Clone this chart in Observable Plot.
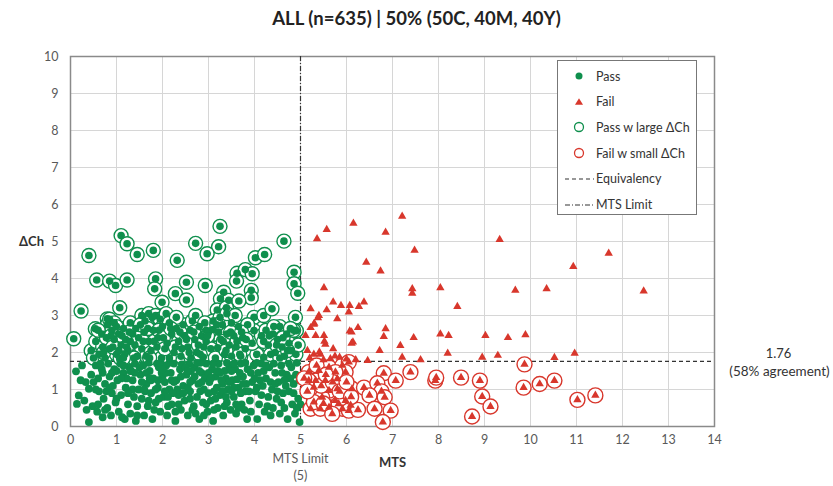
<!DOCTYPE html>
<html>
<head>
<meta charset="utf-8">
<script src="https://cdn.jsdelivr.net/npm/d3@7"></script>
<script src="https://cdn.jsdelivr.net/npm/@observablehq/plot@0.6"></script>
<style>
  html, body { margin: 0; padding: 0; background: #fff; }
  #wrap { position: relative; width: 833px; height: 486px; font-family: Lato, "Open Sans", sans-serif; }
  #title { position: absolute; top: 7px; left: 0; width: 833px; text-align: center; font-weight: bold; font-size: 18.5px; color: #222; }
  #chart { position: absolute; top: 0; left: 0; }
  #legend { position: absolute; left: 557px; top: 60px; width: 140px; height: 155px; border: 1px solid #777; background: #fff; box-sizing: border-box; }
  .li { position: absolute; left: 0; height: 20px; display: flex; align-items: center; font-size: 12.5px; color: #333; }
  .li svg { width: 36px; height: 20px; }
  .li span { margin-left: 2px; }
</style>
</head>
<body>
<div id="wrap">
  <div id="chart"></div>
  <div id="title">ALL (n=635) | 50% (50C, 40M, 40Y)</div>
  <div id="legend"></div>
</div>
<script>
const GREEN = "#0f8f4d";
const RED = "#d8372c";

const xTicks = [0,1,2,3,4,5,6,7,8,9,10,11,12,13,14];
const yTicks = [0,1,2,3,4,5,6,7,8,9,10];
const equivalency = 1.76;
const agreement = "(58% agreement)";
const mtsLimit = 5;

// Pass (below equivalency)
const passX = [0.12,0.18,0.14,0.4,0.33,0.4,0.25,0.3,0.45,0.48,0.55,0.6,0.62,0.58,0.68,0.72,0.75,0.8,0.82,0.85,0.88,0.9,0.95,0.98,0.7,0.92,
1.02,1.05,1.08,1.1,1.15,1.18,1.2,1.25,1.28,1.3,1.35,1.38,1.4,1.45,1.48,1.12,1.32,1.42,
1.52,1.55,1.58,1.6,1.65,1.68,1.72,1.75,1.78,1.8,1.85,1.88,1.9,1.95,1.98,1.62,1.82,1.7,
2.02,2.05,2.08,2.1,2.15,2.18,2.2,2.25,2.28,2.3,2.35,2.38,2.4,2.45,2.48,2.12,2.32,2.42,
2.52,2.55,2.58,2.6,2.65,2.68,2.7,2.75,2.78,2.8,2.85,2.88,2.9,2.95,2.98,2.62,2.72,2.92,2.82,
3.02,3.05,3.08,3.1,3.12,3.15,3.2,3.22,3.25,3.3,3.32,3.35,3.4,3.42,3.45,3.48,3.18,3.38,
3.52,3.55,3.58,3.6,3.65,3.7,3.72,3.75,3.8,3.84,3.85,3.9,3.95,3.98,3.68,3.78,
4.02,4.06,4.08,4.1,4.15,4.18,4.22,4.25,4.3,4.32,4.38,4.4,4.45,4.48,4.28,4.12,
4.52,4.55,4.58,4.62,4.65,4.7,4.72,4.75,4.8,4.82,4.85,4.88,4.9,4.95,4.98,5.0,4.98,4.92,
0.5,0.65,0.78,1.0,1.22,1.5,1.55,1.75,1.92,2.0,2.2,2.22,2.4,2.5,2.55,2.7,2.75,2.85,3.0,3.0,3.1,3.15,3.25,3.3,3.45,3.5,3.55,3.62,3.7,3.82,3.92,4.0,4.2,4.35,4.42,4.6,4.68,4.78,4.5,1.35,1.65,1.85,2.05,2.6,2.95,3.35,3.6,1.15,0.9,0.7,2.35,2.15,3.4,3.8,4.05,1.95,
0.22,0.35,0.55,0.6,0.75,0.85,1.0,1.1,1.25,1.4,1.45,1.6,1.7,1.72,1.9,1.92,2.08,2.12,2.25,2.28,2.45,2.55,2.65,2.8,2.82,2.9,3.05,3.12,3.2,3.28,3.38,3.5,3.55,3.65,3.75,3.88,3.92,4.05,4.15,4.25,4.35,4.45,4.58,4.65,4.75,4.85,4.92,1.3,2.0,2.6];
const passY = [1.49,0.84,0.61,0.12,1.2,1.02,1.65,0.7,1.4,0.55,1.65,1.3,0.95,0.4,1.55,0.75,1.15,0.5,1.7,1.35,0.3,0.9,1.55,0.65,0.25,1.1,
1.25,0.4,1.7,0.85,1.45,0.2,1.05,0.6,1.6,0.35,1.25,0.8,1.7,0.55,1.0,0.25,1.5,0.15,
1.4,0.75,1.65,0.3,1.15,0.55,1.5,0.9,0.2,1.3,0.65,1.7,1.05,0.4,1.45,0.95,0.45,1.72,
0.8,1.2,1.65,0.3,1.0,1.45,0.6,1.7,0.15,1.25,0.85,1.55,0.45,1.1,0.7,0.55,1.0,1.68,
1.4,0.3,1.7,0.95,1.25,0.55,1.6,0.8,1.15,0.2,1.45,0.65,1.0,1.7,0.4,1.5,0.35,1.3,1.72,
1.2,0.7,1.55,0.15,0.95,1.35,0.5,1.7,0.85,1.15,0.3,1.5,0.65,1.0,1.65,0.45,1.05,1.3,
1.25,0.8,1.55,0.35,1.05,1.7,0.6,1.35,0.95,0.2,1.55,0.7,1.2,1.65,1.45,0.45,
0.95,0.2,1.45,0.6,1.7,1.1,0.4,1.3,0.8,1.6,1.0,0.5,1.45,0.75,0.55,1.25,
1.2,0.35,1.65,0.9,0.5,1.4,0.2,0.95,1.6,0.6,1.15,0.35,1.4,0.75,0.12,0.6,1.25,1.72,
1.2,1.7,0.95,1.5,1.3,1.6,1.2,1.25,1.6,1.35,1.25,0.9,1.35,1.6,1.05,1.35,1.72,1.2,1.45,0.9,1.7,0.75,1.45,0.95,1.2,1.5,1.05,1.28,0.9,1.15,1.45,1.3,1.5,1.2,1.7,1.45,1.1,1.3,0.95,1.0,1.45,1.0,0.95,0.75,0.6,0.55,0.6,1.65,1.45,1.45,0.6,1.72,1.72,1.72,1.72,1.72,
1.25,0.45,1.0,0.6,0.45,1.05,0.75,1.3,0.9,1.45,0.3,1.0,0.7,1.3,1.25,0.75,1.45,0.8,1.2,0.4,0.9,1.5,0.45,1.5,0.95,0.3,1.3,0.45,1.5,1.25,0.8,0.95,1.7,0.5,1.15,0.95,0.4,1.05,0.85,1.65,0.3,1.15,0.65,1.25,1.7,0.9,0.5,1.5,1.55,1.2];

// Pass with large ΔCh (above equivalency)
const passLargeX = [3.25,1.1,1.23,0.4,1.45,1.8,2.72,3.22,2.97,4.64,2.32,4.02,4.22,0.57,0.85,0.98,1.23,1.85,1.83,2.52,2.93,2.28,2.52,3.62,3.8,3.95,3.61,4.86,4.86,4.94,3.93,3.93,3.33,3.26,3.44,3.66,3.19,3.39,1.99,1.07,0.23,0.8,0.54,0.07,3.99,4.2,4.38,3.99,4.2,4.89,4.91,
0.45,0.55,0.62,0.7,0.68,0.5,0.75,
0.8,0.85,0.9,0.95,0.85,1.0,1.05,1.1,0.78,0.95,1.08,
1.15,1.2,1.25,1.3,1.35,1.4,1.45,1.18,1.3,1.42,
1.55,1.62,1.7,1.78,1.85,1.95,1.6,1.7,1.8,1.9,1.55,1.65,1.75,1.88,1.98,2.0,
2.08,2.15,2.2,2.1,2.25,2.3,2.35,2.4,2.45,2.48,2.15,2.3,
2.55,2.6,2.65,2.7,2.75,2.8,2.85,2.9,2.95,2.62,2.88,2.72,
2.95,3.0,3.1,3.22,3.27,3.2,3.05,2.98,
3.1,3.25,3.3,3.4,3.45,3.35,3.15,3.5,3.4,3.5,
3.55,3.6,3.65,3.7,3.75,3.8,3.58,3.85,
4.05,3.95,
4.15,4.25,4.3,4.4,4.45,4.5,4.55,4.6,4.65,4.7,4.75,4.8,4.85,4.35,4.55,4.9,4.95,
0.6,0.72,0.88,1.0,1.12,1.22,1.28,1.38,1.48,1.52,1.58,1.68,1.72,1.82,1.92,2.02,2.05,2.18,2.28,2.38,2.42,2.52,2.58,2.68,2.78,2.82,2.92,3.18,3.32,3.38,3.48,3.62,3.68,3.72,3.82,4.2,4.32,4.48,4.62,4.72,4.78,4.42,1.05,0.92,1.15];
const passLargeY = [5.41,5.16,4.94,4.62,4.65,4.76,4.95,4.86,4.67,5.01,4.49,4.56,4.65,3.96,3.93,3.81,3.96,3.99,3.72,3.9,3.81,3.59,3.42,4.14,4.24,4.13,3.93,4.17,3.86,3.6,3.68,3.48,3.63,3.45,3.41,3.39,3.15,3.21,3.36,3.21,3.12,2.91,2.64,2.37,2.95,3.0,3.18,2.59,1.87,2.95,2.59,
2.05,2.3,1.95,2.15,2.5,1.85,1.85,
2.75,2.9,2.6,2.35,2.1,1.95,2.5,2.2,2.4,2.8,1.85,
2.65,2.35,2.05,2.8,2.5,2.2,1.9,1.95,2.3,2.65,
3.0,2.85,3.05,2.95,3.0,2.9,2.55,2.3,2.6,2.4,2.1,1.9,2.05,2.15,1.85,2.7,
3.05,2.8,2.5,2.25,2.0,2.65,2.3,1.9,2.75,2.45,1.85,2.95,
2.15,2.6,2.85,2.35,2.0,2.7,2.45,2.15,2.6,1.85,1.88,3.0,
2.3,2.55,2.62,2.55,2.35,2.13,2.1,2.45,
2.85,2.95,2.75,2.5,2.2,1.95,1.85,2.8,3.05,1.9,
2.45,2.15,2.7,1.9,2.4,2.1,3.0,2.75,
1.95,2.25,
2.45,2.6,2.2,2.5,2.0,2.35,2.7,2.15,1.9,2.5,2.25,2.05,2.6,1.95,1.85,1.95,2.2,
2.6,2.0,2.45,2.7,2.45,2.15,2.55,1.85,2.4,2.75,2.3,2.65,1.85,2.3,2.6,2.4,2.1,2.65,2.15,2.55,2.1,2.35,2.0,2.55,2.2,1.95,2.8,2.75,2.3,2.05,2.55,2.3,1.95,2.55,2.35,2.3,2.45,2.2,2.4,2.05,2.65,2.7,2.05,2.15,1.85];

// Fail (above equivalency)
const failX = [5.36,5.57,6.15,6.85,7.21,7.48,6.43,6.74,5.51,7.43,7.43,8.04,8.41,5.22,5.4,5.57,5.71,5.88,6.07,6.05,6.27,6.38,5.8,5.3,5.38,5.22,5.11,5.33,5.51,5.54,5.71,6.11,6.25,6.85,6.81,6.11,7.46,7.17,6.72,8.04,8.22,8.2,9.02,7.21,6.46,7.61,8.95,5.15,5.29,5.43,5.65,5.85,
9.33,11.7,10.93,9.67,10.35,12.46,9.51,9.89,9.29,10.52,10.96,5.29,6.07,6.14,5.52,5.41,5.2,5.5,5.75,6.0,6.2];
const failY = [5.07,5.32,5.49,5.25,5.68,4.76,4.44,4.2,3.75,3.72,3.6,3.75,3.24,3.18,3.0,3.15,3.36,3.27,3.27,3.09,3.24,3.36,2.91,2.79,2.94,2.67,2.46,2.46,2.46,2.22,2.1,2.55,2.67,2.64,2.43,2.25,2.4,2.19,2.05,2.5,2.46,1.98,2.46,1.87,1.78,1.8,1.87,2.05,1.95,1.95,1.83,1.87,
5.05,4.68,4.32,3.68,3.72,3.66,2.4,2.48,1.92,1.86,1.98,2.76,2.58,2.28,2.3,2.01,1.85,1.8,1.9,1.82,1.8];

// Fail with small ΔCh (below equivalency)
const failSmallX = [6.81,7.39,7.07,6.12,6.38,6.67,6.76,6.5,6.83,6.61,6.96,6.79,6.09,5.91,5.76,5.62,5.22,5.43,5.8,5.8,5.54,5.29,5.18,5.4,5.62,5.91,6.05,5.98,5.33,5.18,5.62,5.76,5.47,5.98,5.83,5.69,6.05,5.29,
7.93,7.95,8.49,8.9,8.95,9.13,8.73,9.87,9.85,10.2,10.52,11.02,11.41,
5.08,5.15,5.45,5.7,5.35,5.55,5.85,6.0,6.25,5.5,6.1];
const failSmallY = [1.44,1.47,1.24,1.02,1.05,1.17,0.95,0.84,0.79,0.48,0.43,0.12,0.57,0.48,0.7,0.52,0.48,0.48,1.02,1.29,1.24,1.06,1.47,1.51,1.6,1.65,1.74,1.47,1.24,1.24,0.97,1.47,0.79,0.7,0.61,0.34,0.43,0.66,
1.24,1.32,1.32,1.24,0.81,0.54,0.27,1.68,1.05,1.15,1.24,0.72,0.84,
1.3,0.95,1.1,1.2,1.65,1.4,0.95,1.2,0.45,0.62,0.8];

const pass = passX.map((x,i)=>({x, y: passY[i]}));
const passLarge = passLargeX.map((x,i)=>({x, y: passLargeY[i]}));
const fail = failX.map((x,i)=>({x, y: failY[i]}));
const failSmall = failSmallX.map((x,i)=>({x, y: failSmallY[i]}));

const chart = Plot.plot({
  width: 833,
  height: 486,
  marginTop: 56,
  marginLeft: 70,
  marginRight: 119,
  marginBottom: 60,
  style: { fontFamily: "Lato, 'Open Sans', sans-serif", fontSize: "12px", color: "#595959", background: "transparent", overflow: "visible" },
  x: { domain: [0, 14] },
  y: { domain: [0, 10] },
  marks: [
    Plot.gridX(xTicks, { stroke: "#d6d6d6", strokeOpacity: 1 }),
    Plot.gridY(yTicks, { stroke: "#d6d6d6", strokeOpacity: 1 }),
    Plot.frame({ stroke: "#8a8a8a", strokeWidth: 1.5 }),
    Plot.axisX(xTicks, { tickSize: 0, tickPadding: 9, label: null, fontSize: 12.5, fill: "#595959" }),
    Plot.axisY(yTicks, { tickSize: 0, tickPadding: 12, label: null, fontSize: 12.5, fill: "#595959" }),
    Plot.ruleX([mtsLimit], { stroke: "#333", strokeWidth: 1.2, strokeDasharray: "5,2,1,2" }),
    Plot.ruleY([equivalency], { stroke: "#333", strokeWidth: 1.2, strokeDasharray: "4,3" }),
    Plot.dot(passLarge, { x: "x", y: "y", r: 7, fill: "#fff", stroke: GREEN, strokeWidth: 1.4 }),
    Plot.dot(pass, { x: "x", y: "y", r: 3.9, fill: GREEN }),
    Plot.dot(passLarge, { x: "x", y: "y", r: 3.8, fill: GREEN }),
    Plot.dot(failSmall, { x: "x", y: "y", r: 7.5, fill: "#fff", stroke: RED, strokeWidth: 1.4 }),
    Plot.dot(fail, { x: "x", y: "y", r: 3.1, symbol: "triangle", fill: RED }),
    Plot.dot(failSmall, { x: "x", y: "y", r: 3.1, symbol: "triangle", fill: RED }),
    Plot.text([equivalency], { y: d => d, frameAnchor: "right", textAnchor: "middle", dx: 64, dy: -8, text: d => d.toFixed(2), fontSize: 13, fill: "#333" }),
    Plot.text([equivalency], { y: d => d, frameAnchor: "right", textAnchor: "middle", dx: 65, dy: 10, text: () => agreement, fontSize: 13.5, fill: "#333" }),
    Plot.text([mtsLimit], { x: d => d, frameAnchor: "bottom", dy: 36, text: () => "MTS Limit", fontSize: 12.5, fill: "#595959" }),
    Plot.text([mtsLimit], { x: d => d, frameAnchor: "bottom", dy: 53, text: d => `(${d})`, fontSize: 12.5, fill: "#595959" }),
    Plot.text([7], { x: d => d, frameAnchor: "bottom", dy: 40, text: () => "MTS", fontSize: 13, fontWeight: "bold", fill: "#333" }),
    Plot.text([5], { y: d => d, frameAnchor: "left", textAnchor: "middle", dx: -39, text: () => "ΔCh", fontSize: 13, fontWeight: "bold", fill: "#333" })
  ]
});
document.getElementById("chart").appendChild(chart);

// Legend
const legendItems = [
  { label: "Pass", icon: `<circle cx="21" cy="10" r="3.5" fill="${GREEN}"/>` },
  { label: "Fail", icon: `<path d="M21,6.2 L25,12.8 L17,12.8 Z" fill="${RED}"/>` },
  { label: "Pass w large ΔCh", icon: `<circle cx="21" cy="10" r="4.5" fill="none" stroke="${GREEN}" stroke-width="1.3"/>` },
  { label: "Fail w small ΔCh", icon: `<circle cx="21" cy="10" r="4.5" fill="none" stroke="${RED}" stroke-width="1.3"/>` },
  { label: "Equivalency", icon: `<line x1="7" x2="36" y1="10" y2="10" stroke="#333" stroke-width="1.2" stroke-dasharray="4,3"/>` },
  { label: "MTS Limit", icon: `<line x1="7" x2="36" y1="10" y2="10" stroke="#333" stroke-width="1.2" stroke-dasharray="5,2,1,2"/>` }
];
const lg = document.getElementById("legend");
legendItems.forEach((it, i) => {
  const div = document.createElement("div");
  div.className = "li";
  div.style.top = (5 + i * 25.7) + "px";
  div.innerHTML = `<svg viewBox="0 0 36 20">${it.icon}</svg><span>${it.label}</span>`;
  lg.appendChild(div);
});
</script>
</body>
</html>
